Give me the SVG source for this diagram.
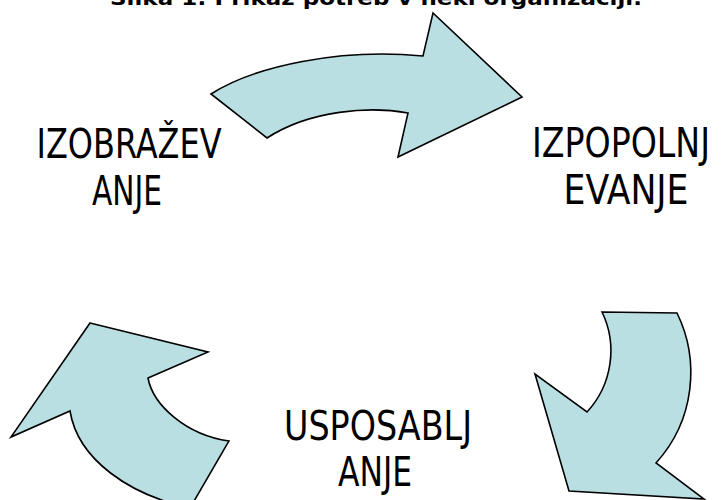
<svg xmlns="http://www.w3.org/2000/svg" width="721" height="500" viewBox="0 0 721 500">
<style>
.arrow{fill:#b9dfe2;stroke:#000;stroke-width:1.6;stroke-linejoin:miter}
.lbl{font-family:"DejaVu Sans Condensed","DejaVu Sans",sans-serif;font-size:40px;fill:#000;text-anchor:middle}
.title{font-family:"DejaVu Sans","Liberation Sans",sans-serif;font-weight:bold;font-size:20px;fill:#000}
</style>
<rect width="721" height="500" fill="#fff"/>
<text class="title" x="110" y="5" textLength="532" lengthAdjust="spacingAndGlyphs">Slika 1: Prikaz potreb v neki organizaciji.</text>
<g id="connectors">
<path id="arrow-top" class="arrow" d="M211,94 C255,66 340,48 423,56 L433,13 L522,97 L398,157 L408,113 C370,106 310,110 267,138 Z"/>
<path id="arrow-right" class="arrow" d="M602,312 L677,313 C700,360 695,420 656,463 L704,499 L569,491 L535,374 L587,412 C612,385 618,345 602,312 Z"/>
<path id="arrow-left" class="arrow" d="M90,323 L208,352 L148,378 C153,405 186,435 229,441 L190,508 C130,495 78,460 70,411 L11,437 Z"/>
</g>
<g id="node-izobrazevanje">
<text class="lbl" x="129" y="158" textLength="185" lengthAdjust="spacingAndGlyphs">IZOBRAŽEV</text>
<text class="lbl" x="127" y="205" textLength="70" lengthAdjust="spacingAndGlyphs">ANJE</text>
</g>
<g id="node-izpopolnjevanje">
<text class="lbl" x="621" y="157" textLength="178" lengthAdjust="spacingAndGlyphs">IZPOPOLNJ</text>
<text class="lbl" x="626" y="204" textLength="125" lengthAdjust="spacingAndGlyphs">EVANJE</text>
</g>
<g id="node-usposabljanje">
<text class="lbl" x="378" y="440" textLength="188" lengthAdjust="spacingAndGlyphs">USPOSABLJ</text>
<text class="lbl" x="375" y="486" textLength="74" lengthAdjust="spacingAndGlyphs">ANJE</text>
</g>
</svg>
